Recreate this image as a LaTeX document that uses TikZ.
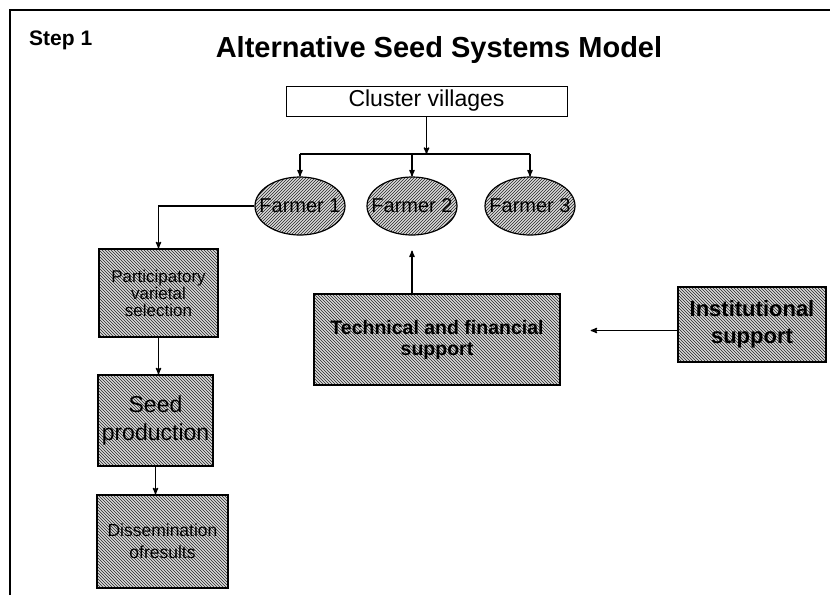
\documentclass[tikz,border=0pt]{standalone}
\usepackage{fontspec}
\setmainfont{Liberation Sans}
\usetikzlibrary{arrows}
\usetikzlibrary{patterns}
\usetikzlibrary{shapes.geometric}
\newcommand{\setfs}[2]{\fontsize{#1pt}{#2pt}\selectfont}

\begin{document}
\begin{tikzpicture}[x=1pt,y=-1pt,>=stealth',
  hatchbox/.style={draw,line width=1.3pt,rectangle,inner sep=0pt,align=center,preaction={fill=gray!30},pattern=north west lines,pattern color=black!85},
  farmer/.style={draw,line width=1.2pt,ellipse,minimum width=90pt,minimum height=58pt,inner sep=0pt,preaction={fill=gray!30},pattern=north east lines,pattern color=black!85,font=\setfs{20}{20}},
  link/.style={->,line width=1.3pt}]
\useasboundingbox (0,0) rectangle (830,595);
\draw[line width=2pt] (10,595) -- (10,10) -- (830,10);
\node[anchor=base west,inner sep=0pt,font=\bfseries\setfs{21}{21}] (step) at (29,45) {Step 1};
\node[anchor=base,inner sep=0pt,font=\bfseries\setfs{29}{29}] (title) at (439,57) {Alternative Seed Systems Model};
\node[draw,line width=0.8pt,minimum width=281pt,minimum height=30pt,inner sep=0pt,font=\setfs{23}{23}] (cluster) at (426.5,101) {Cluster villages};
\foreach \i/\x in {1/300,2/412,3/530} \node[farmer] (farmer\i) at (\x,206) {\makebox[0pt]{Farmer \i}};
\node[hatchbox,minimum width=119pt,minimum height=88pt,font=\setfs{17}{17}] (pvs) at (158.5,293) {Participatory\\varietal\\selection};
\node[hatchbox,minimum width=115pt,minimum height=91pt,font=\setfs{23}{28}] (seed) at (155.5,420.5) {Seed\\production};
\node[hatchbox,minimum width=131pt,minimum height=93pt,font=\setfs{17.5}{22}] (dissem) at (162.5,541.5) {Dissemination\\ofresults};
\node[hatchbox,minimum width=246pt,minimum height=91pt,font=\bfseries\setfs{19.5}{21}] (tech) at (437,339.5) {Technical and financial\\support};
\node[hatchbox,minimum width=148pt,minimum height=75pt,font=\bfseries\setfs{22}{27}] (inst) at (752,324.5) {Institutional\\support};

\coordinate (hub) at (428,154);
\draw[link] (cluster.south) -- (cluster.south |- hub);
\draw[line width=1.3pt] (farmer1.north |- hub) -- (farmer3.north |- hub);
\foreach \i in {1,2,3} \draw[link] (farmer\i.north |- hub) -- (farmer\i.north);
\draw[link] (farmer1.west) -| (pvs.north);
\draw[link] (pvs.south) -- (pvs.south |- seed.north);
\draw[link] (seed.south) -- (seed.south |- dissem.north);
\draw[link,shorten >=15pt] (farmer2.south |- tech.north) -- (farmer2.south);
\draw[link,shorten >=30pt] ([yshift=-6pt]inst.west) -- ([yshift=-6pt]inst.west -| tech.east);
\end{tikzpicture}
\end{document}
